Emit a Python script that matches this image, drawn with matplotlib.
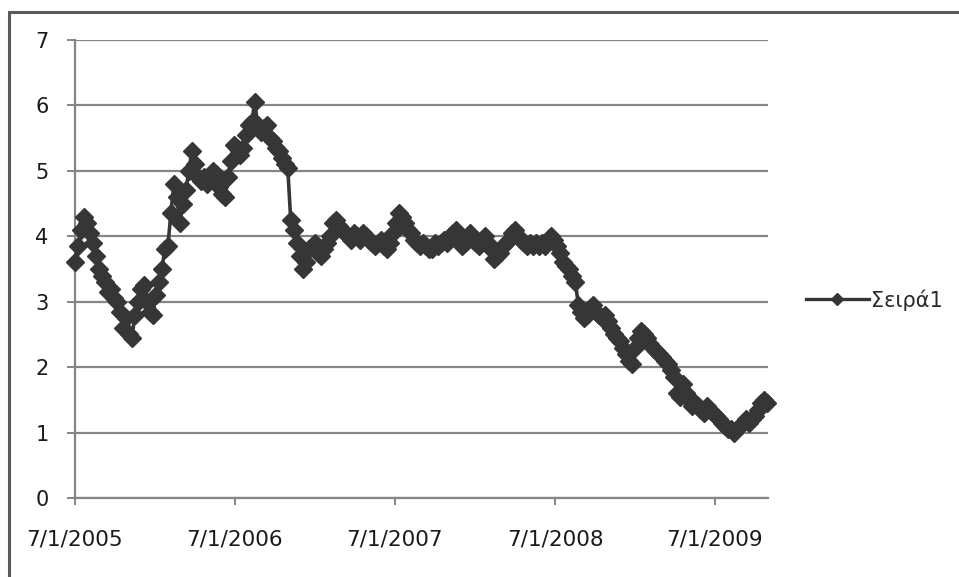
import matplotlib
matplotlib.use("Agg")
import matplotlib.pyplot as plt
import matplotlib.dates as mdates
import pandas as pd
from matplotlib.patches import Rectangle
from matplotlib.lines import Line2D

start_date = "2005-07-01"
end_date = "2009-10-28"
values = [
    3.6, 3.85, 4.1, 4.3, 4.2, 4.05, 3.9, 3.7, 3.5, 3.4,
    3.3, 3.15, 3.2, 3.05, 3.0, 2.85, 2.6, 2.75, 2.5, 2.45,
    2.8, 3.0, 3.2, 3.25, 3.0, 2.85, 2.8, 3.1, 3.3, 3.5,
    3.8, 3.85, 4.35, 4.8, 4.6, 4.2, 4.5, 4.7, 5.0, 5.3,
    5.1, 4.9, 4.85, 4.9, 4.8, 4.9, 5.0, 4.95, 4.75, 4.65,
    4.6, 4.9, 5.15, 5.4, 5.35, 5.25, 5.35, 5.55, 5.7, 5.75,
    6.05, 5.7, 5.6, 5.65, 5.7, 5.5, 5.45, 5.35, 5.3, 5.2,
    5.1, 5.05, 4.25, 4.1, 3.9, 3.7, 3.5, 3.6, 3.8, 3.85,
    3.9, 3.75, 3.7, 3.8, 3.9, 4.0, 4.2, 4.25, 4.15, 4.1,
    4.05, 4.0, 3.95, 4.05, 4.0, 3.95, 4.05, 4.0, 3.95, 3.9,
    3.85, 3.9, 3.95, 3.85, 3.8, 3.9, 4.05, 4.2, 4.35, 4.3,
    4.2, 4.1, 4.05, 3.95, 3.9, 3.85, 3.9, 3.85, 3.8, 3.8,
    3.9, 3.85, 3.9, 3.95, 3.9, 4.0, 4.05, 4.1, 3.95, 3.85,
    3.9, 4.0, 4.05, 3.95, 3.9, 3.85, 3.95, 4.0, 3.9, 3.8,
    3.65, 3.7, 3.75, 3.85, 3.9, 3.95, 4.05, 4.1, 4.0, 3.95,
    3.9, 3.85, 3.9, 3.85, 3.9, 3.85, 3.9, 3.85, 3.95, 4.0,
    3.95, 3.85, 3.75, 3.6, 3.55, 3.5, 3.4, 3.3, 2.95, 2.85,
    2.75, 2.8, 2.9, 2.95, 2.85, 2.8, 2.75, 2.8, 2.7, 2.6,
    2.5, 2.45, 2.4, 2.3, 2.2, 2.1, 2.05, 2.3, 2.45, 2.55,
    2.5, 2.45, 2.35, 2.3, 2.25, 2.2, 2.15, 2.1, 2.05, 1.95,
    1.85, 1.6, 1.55, 1.75, 1.6, 1.5, 1.4, 1.45, 1.4, 1.35,
    1.3, 1.4, 1.35, 1.3, 1.25, 1.2, 1.15, 1.1, 1.05, 1.05,
    1.0, 1.05, 1.1, 1.15, 1.2, 1.15, 1.2, 1.25, 1.35, 1.45,
    1.5, 1.45,
]
series_name = "Σειρά1"
xtick_dates = ["2005-07-01", "2006-07-01", "2007-07-01", "2008-07-01", "2009-07-01"]
xtick_labels = ["7/1/2005", "7/1/2006", "7/1/2007", "7/1/2008", "7/1/2009"]
yticks = [0, 1, 2, 3, 4, 5, 6, 7]
x_max = "2009-10-30"

plt.rcParams['font.family'] = ['DejaVu Sans']
W, H = 959, 577
fig = plt.figure(figsize=(W / 100, H / 100), dpi=100)
fig.patch.set_facecolor("white")

ax = fig.add_axes([75 / W, 1 - 498 / H, (768 - 75) / W, (498 - 40) / H])

dates = pd.date_range(start_date, end_date, periods=len(values))
col = "#363636"
ax.plot(dates, values, color=col, lw=2.6, marker="D", markersize=9,
        markerfacecolor=col, markeredgecolor=col, clip_on=False, zorder=3)

ax.set_ylim(0, 7)
ax.set_yticks(yticks)
ax.set_xlim(pd.Timestamp(start_date), pd.Timestamp(x_max))
ax.set_xticks([pd.Timestamp(d) for d in xtick_dates])
ax.set_xticklabels(xtick_labels)

gcol = "#858585"
ax.yaxis.grid(True, color=gcol, lw=1.6)
ax.set_axisbelow(True)
for s in ["top", "right"]:
    ax.spines[s].set_visible(False)
for s in ["left", "bottom"]:
    ax.spines[s].set_color(gcol)
    ax.spines[s].set_linewidth(1.6)

ax.tick_params(axis="y", length=6, width=1.4, color=gcol, pad=13,
               labelsize=15, labelcolor="#1a1a1a")
ax.tick_params(axis="x", length=5, width=1.4, color=gcol, pad=18,
               labelsize=15.5, labelcolor="#1a1a1a")

handle = Line2D([0], [0], color=col, lw=2.4, marker="D", markersize=6.5,
                markerfacecolor=col, markeredgecolor=col)
fig.legend([handle], [series_name], loc="center left",
           bbox_to_anchor=(806 / W, 1 - 300 / H), frameon=False,
           fontsize=15, handlelength=3.0, handletextpad=0.1,
           borderpad=0, borderaxespad=0, labelcolor="#2a2a2a")

# scanned frame border
frame = Rectangle((9 / W, -0.05), 1.1, 1 - 12 / H + 0.05, transform=fig.transFigure,
                  fill=False, edgecolor="#5a5a5a", lw=2.2, clip_on=False)
fig.patches.append(frame)

fig.savefig("out.png", dpi=100, facecolor="white")
